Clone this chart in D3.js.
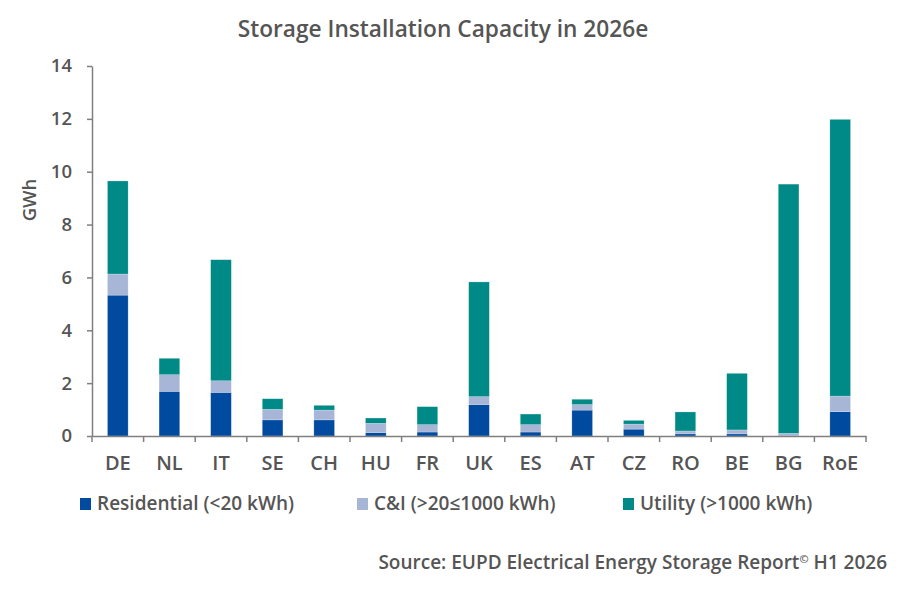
<!DOCTYPE html>
<html>
<head>
<meta charset="utf-8">
<script src="https://cdn.jsdelivr.net/npm/d3@7"></script>
<style>
  body { margin: 0; background: #fff; }
  text { font-family: "Open Sans", "Noto Sans", sans-serif; font-weight: 600; fill: #555555; }
</style>
</head>
<body>
<div id="chart"></div>
<script>
// Countries and GWh per segment
const countries = ["DE", "NL", "IT", "SE", "CH", "HU", "FR", "UK", "ES", "AT", "CZ", "RO", "BE", "BG", "RoE"];
const residential = [5.33, 1.69, 1.65, 0.61, 0.61, 0.13, 0.15, 1.19, 0.15, 0.98, 0.26, 0.08, 0.08, 0.02, 0.92];
const commercial = [0.80, 0.63, 0.44, 0.40, 0.37, 0.35, 0.28, 0.30, 0.28, 0.21, 0.19, 0.11, 0.15, 0.08, 0.59];
const utility = [3.52, 0.62, 4.58, 0.40, 0.18, 0.20, 0.68, 4.34, 0.40, 0.20, 0.14, 0.72, 2.14, 9.43, 10.47];
const yTicks = [0, 2, 4, 6, 8, 10, 12, 14];

const seriesKeys = ["res", "ci", "util"];
const seriesNames = ["Residential (<20 kWh)", "C&I (>20≤1000 kWh)", "Utility (>1000 kWh)"];
const colors = ["#004b9f", "#a7b6d7", "#008a87"];

const W = 900, H = 600;
const margin = { top: 66, right: 34, bottom: 164, left: 92 };
const width = W - margin.left - margin.right;
const height = H - margin.top - margin.bottom;

const table = countries.map((c, i) => ({ country: c, res: residential[i], ci: commercial[i], util: utility[i] }));
const stacked = d3.stack().keys(seriesKeys)(table);

const svg = d3.select("#chart").append("svg")
  .attr("width", W)
  .attr("height", H);

const g = svg.append("g")
  .attr("transform", `translate(${margin.left},${margin.top})`);

const x = d3.scaleBand()
  .domain(countries)
  .range([0, width])
  .paddingInner(0.6)
  .paddingOuter(0.3);

const y = d3.scaleLinear()
  .domain([0, 14])
  .range([height, 0]);

// Title
svg.append("text")
  .attr("x", 443)
  .attr("y", 37)
  .attr("text-anchor", "middle")
  .style("font-size", "22.7px")
  .text("Storage Installation Capacity in 2026e");

// Bars
g.selectAll(".layer")
  .data(stacked)
  .join("g")
  .attr("fill", (d, i) => colors[i])
  .selectAll("rect")
  .data(d => d)
  .join("rect")
  .attr("x", d => x(d.data.country))
  .attr("y", d => y(d[1]))
  .attr("width", x.bandwidth())
  .attr("height", d => y(d[0]) - y(d[1]))
  .attr("stroke", "#ffffff")
  .attr("stroke-opacity", 0.35)
  .attr("stroke-width", 0.6);

// Y axis
const yAxis = g.append("g")
  .call(d3.axisLeft(y).tickValues(yTicks).tickSize(5).tickPadding(15).tickSizeOuter(0));
yAxis.select(".domain").attr("stroke", "#7f7f7f").attr("stroke-width", 1.5);
yAxis.selectAll(".tick line").attr("stroke", "#7f7f7f").attr("stroke-width", 1.5);
yAxis.selectAll(".tick text")
  .style("font-size", "18.5px")
  .attr("fill", null);

// X axis with ticks on category boundaries
const xAxis = g.append("g")
  .attr("transform", `translate(0,${height})`)
  .call(d3.axisBottom(x).tickSize(0).tickPadding(20).tickSizeOuter(0));
xAxis.select(".domain").attr("stroke", "#7f7f7f").attr("stroke-width", 1.5);
xAxis.selectAll(".tick text")
  .style("font-size", "20px")
  .attr("fill", null);

const step = x.step();
const boundaries = d3.range(countries.length + 1).map(i => i * step);
g.selectAll(".xtick")
  .data(boundaries)
  .join("line")
  .attr("x1", d => d)
  .attr("x2", d => d)
  .attr("y1", height)
  .attr("y2", height + 6)
  .attr("stroke", "#7f7f7f")
  .attr("stroke-width", 1.5);

// Y axis label
svg.append("text")
  .attr("transform", `translate(36,${margin.top + 134}) rotate(-90)`)
  .attr("text-anchor", "middle")
  .style("font-size", "18.5px")
  .text("GWh");

// Legend
const legendX = [80, 357, 623];
const legend = svg.selectAll(".legend")
  .data(seriesNames)
  .join("g")
  .attr("transform", (d, i) => `translate(${legendX[i]},498)`);

legend.append("rect")
  .attr("width", 11)
  .attr("height", 12)
  .attr("fill", (d, i) => colors[i]);

legend.append("text")
  .attr("x", 17)
  .attr("y", 12)
  .style("font-size", "19px")
  .text(d => d);

// Source
svg.append("text")
  .attr("x", 887)
  .attr("y", 569)
  .attr("text-anchor", "end")
  .style("font-size", "19px")
  .html("Source: EUPD Electrical Energy Storage Report<tspan dy='-6' style='font-size:11px'>©</tspan><tspan dy='6'> H1 2026</tspan>");
</script>
</body>
</html>
